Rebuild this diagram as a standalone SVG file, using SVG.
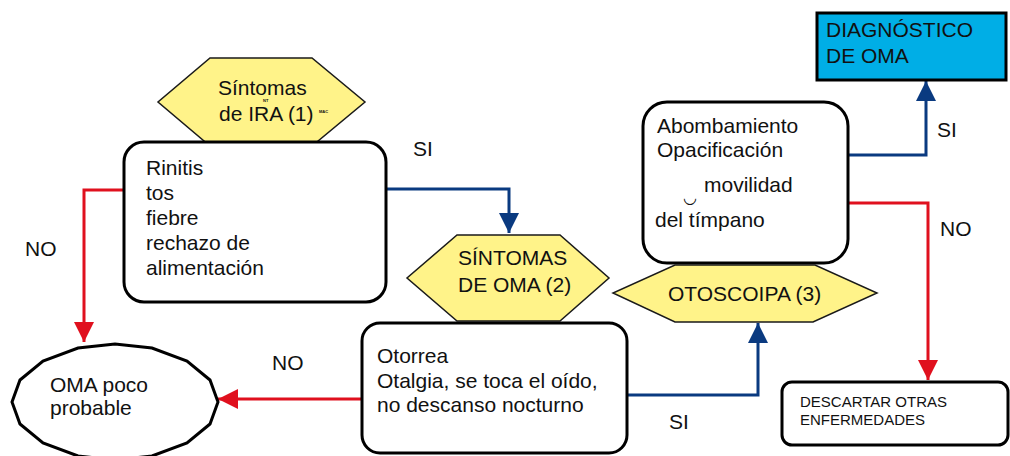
<svg xmlns="http://www.w3.org/2000/svg" width="1010" height="456" viewBox="0 0 1010 456">
<style>
text{font-family:"Liberation Sans",Arial,sans-serif;fill:#111;}
.t{font-size:21px;}
.s{font-size:15px;}
.tiny{font-size:4px;font-weight:bold;}
.box{fill:#fff;stroke:#000;stroke-width:3;}
.hex{fill:#fff389;stroke:#1a1a1a;stroke-width:1.5;}
.blue{fill:none;stroke:#0a3a80;stroke-width:3;}
.red{fill:none;stroke:#e0101e;stroke-width:3;}
</style>
<defs>
<marker id="ab" viewBox="0 0 20 20" refX="20" refY="10" markerWidth="20" markerHeight="20" markerUnits="userSpaceOnUse" orient="auto"><path d="M0,0 L20,10 L0,20 Z" fill="#0a3a80"/></marker>
<marker id="ar" viewBox="0 0 20 20" refX="20" refY="10" markerWidth="20" markerHeight="20" markerUnits="userSpaceOnUse" orient="auto"><path d="M0,0 L20,10 L0,20 Z" fill="#e0101e"/></marker>
</defs>
<rect width="1010" height="456" fill="#fff"/>

<g id="connectors">
<polyline class="red" points="124,190 84,190 84,342" marker-end="url(#ar)"/>
<polyline class="blue" points="386,189 509,189 509,233" marker-end="url(#ab)"/>
<polyline class="red" points="362,399 218,399" marker-end="url(#ar)"/>
<polyline class="blue" points="627,395 758,395 758,323" marker-end="url(#ab)"/>
<polyline class="blue" points="848,155 926,155 926,81" marker-end="url(#ab)"/>
<polyline class="red" points="848,203 928,203 928,380" marker-end="url(#ar)"/>
</g>

<g id="labels">
<text class="t" x="25" y="256">NO</text>
<text class="t" x="413" y="156">SI</text>
<text class="t" x="272" y="370">NO</text>
<text class="t" x="669" y="429">SI</text>
<text class="t" x="937" y="137">SI</text>
<text class="t" x="940" y="236">NO</text>
</g>

<g id="hex-ira">
<polygon class="hex" points="210,58 312,58 365,102 312,146 210,146 158,102"/>
<text class="t" x="218" y="95">Síntomas</text>
<text class="t" x="219" y="121">de IRA (1)</text>
<text class="tiny" x="263" y="101.5">NT</text>
<text class="tiny" x="319" y="113">MAC</text>
</g>

<g id="box-rinitis">
<rect class="box" x="124" y="142" width="262" height="160" rx="20" ry="20"/>
<text class="t" x="146" y="175">Rinitis</text>
<text class="t" x="146" y="200">tos</text>
<text class="t" x="146" y="225">fiebre</text>
<text class="t" x="146" y="250">rechazo de</text>
<text class="t" x="146" y="275">alimentación</text>
</g>

<g id="oma-poco">
<polygon fill="#fff" stroke="#000" stroke-width="3" points="218,402 210,424 187,443 152,456 115,460 78,456 43,443 20,424 12,402 20,380 43,361 78,348 115,344 152,348 187,361 210,380"/>
<text class="t" x="50" y="392">OMA poco</text>
<text class="t" x="50" y="415">probable</text>
</g>

<g id="hex-oma">
<polygon class="hex" points="457,235 560,235 609,278 560,321 457,321 407,278"/>
<text class="t" x="458" y="265">SÍNTOMAS</text>
<text class="t" x="458" y="292">DE OMA (2)</text>
</g>

<g id="box-otorrea">
<rect class="box" x="362" y="323" width="265" height="130" rx="18" ry="18"/>
<text class="t" x="377" y="363">Otorrea</text>
<text class="t" x="377" y="388">Otalgia, se toca el oído,</text>
<text class="t" x="377" y="412">no descanso nocturno</text>
</g>

<g id="box-otoscopia">
<rect class="box" x="643" y="102" width="205" height="161" rx="24" ry="24"/>
<text class="t" x="657" y="133">Abombamiento</text>
<text class="t" x="657" y="157">Opacificación</text>
<text x="683" y="203" font-size="16px" font-family="DejaVu Sans, sans-serif">◡</text>
<text class="t" x="704" y="192">movilidad</text>
<text class="t" x="655" y="227">del tímpano</text>
</g>

<g id="hex-otoscopia">
<polygon class="hex" points="675,265 815,265 877,293 813,322 675,322 613,293"/>
<text class="t" x="668" y="301">OTOSCOIPA (3)</text>
</g>

<g id="box-diagnostico">
<rect x="817" y="13" width="189" height="67" fill="#00aee6" stroke="#000" stroke-width="3"/>
<text class="t" x="826" y="37">DIAGNÓSTICO</text>
<text class="t" x="826" y="63">DE OMA</text>
</g>

<g id="box-descartar">
<rect class="box" x="782" y="382" width="226" height="63" rx="10" ry="10"/>
<text class="s" x="800" y="407">DESCARTAR OTRAS</text>
<text class="s" x="800" y="425">ENFERMEDADES</text>
</g>
</svg>
